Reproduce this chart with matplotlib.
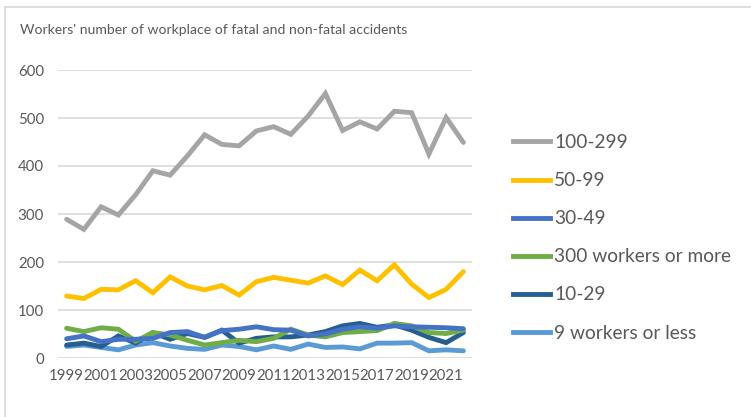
import matplotlib.pyplot as plt
from matplotlib.lines import Line2D

years = list(range(1999, 2023))
year_labels = [str(y) if (y - 1999) % 2 == 0 else "" for y in years]

s_100_299 = [289, 268, 315, 298, 340, 390, 381, 421, 465, 445, 442, 473,
             482, 466, 504, 551, 474, 492, 477, 514, 511, 425, 501, 449]
s_50_99 = [129, 124, 143, 142, 161, 136, 169, 150, 142, 151, 131, 159,
           168, 162, 156, 171, 153, 183, 161, 194, 154, 126, 143, 180]
s_30_49 = [40, 46, 34, 39, 39, 41, 53, 55, 43, 57, 60, 65,
           59, 58, 46, 50, 60, 65, 62, 67, 65, 64, 63, 61]
s_300_more = [62, 55, 63, 60, 35, 53, 48, 37, 27, 32, 37, 34,
              41, 60, 48, 44, 53, 55, 57, 72, 67, 53, 51, 58]
s_10_29 = [27, 31, 24, 46, 31, 53, 39, 51, 43, 58, 31, 41,
           44, 44, 48, 55, 67, 72, 64, 69, 58, 43, 32, 53]
s_9_less = [24, 27, 22, 17, 27, 32, 25, 20, 18, 27, 24, 17,
            25, 18, 29, 22, 23, 19, 31, 31, 32, 15, 17, 15]

series = [
    ("100-299", s_100_299, "#A5A5A5"),
    ("50-99", s_50_99, "#FFC000"),
    ("30-49", s_30_49, "#4472C4"),
    ("300 workers or more", s_300_more, "#70AD47"),
    ("10-29", s_10_29, "#255E91"),
    ("9 workers or less", s_9_less, "#5B9BD5"),
]

plt.rcParams['font.family'] = ['Lato', 'DejaVu Sans']
text_col = "#595959"
grid_col = "#D9D9D9"

W, H = 751, 417
fig = plt.figure(figsize=(W / 100, H / 100), dpi=100)

# chart border (top and left visible)
fig.add_artist(Line2D([5 / W, 5 / W], [0, 1 - 7 / H], color=grid_col, lw=1.2))
fig.add_artist(Line2D([5 / W, 1], [1 - 7 / H, 1 - 7 / H], color=grid_col, lw=1.2))

ax = fig.add_axes([58 / W, 1 - 358 / H, (472 - 58) / W, (358 - 70) / H])
x = list(range(len(years)))
for i in [5, 4, 3, 2, 1, 0]:
    name, vals, col = series[i]
    ax.plot(x, vals, color=col, lw=3.5, solid_capstyle='round',
            solid_joinstyle='miter', zorder=3 + (5 - i) * 0.1)

ax.set_xlim(-0.5, len(years) - 0.5)
ax.set_ylim(0, 600)
ax.set_yticks(range(0, 601, 100))
ax.set_xticks(x)
ax.set_xticklabels(year_labels)
ax.yaxis.grid(True, color=grid_col, lw=1.2)
ax.set_axisbelow(True)
for sp in ax.spines.values():
    sp.set_visible(False)
ax.tick_params(axis='both', length=0, colors=text_col, labelsize=10.8)
ax.tick_params(axis='y', pad=10)
ax.tick_params(axis='x', pad=8)

fig.text(20 / W, 1 - 30 / H, "Workers' number of workplace of fatal and non-fatal accidents",
         fontsize=10.1, color=text_col, va='center', ha='left')

handles = [Line2D([0], [0], color=c, lw=3.5) for _, _, c in series]
labels = [n for n, _, _ in series]
fig.legend(handles, labels, loc='upper left', bbox_to_anchor=(505 / W, 1 - 126.5 / H),
           frameon=False, fontsize=13.8, labelcolor=text_col, handlelength=1.95,
           handletextpad=0.22, labelspacing=1.1, borderaxespad=0)

fig.savefig("out.png", dpi=100)
